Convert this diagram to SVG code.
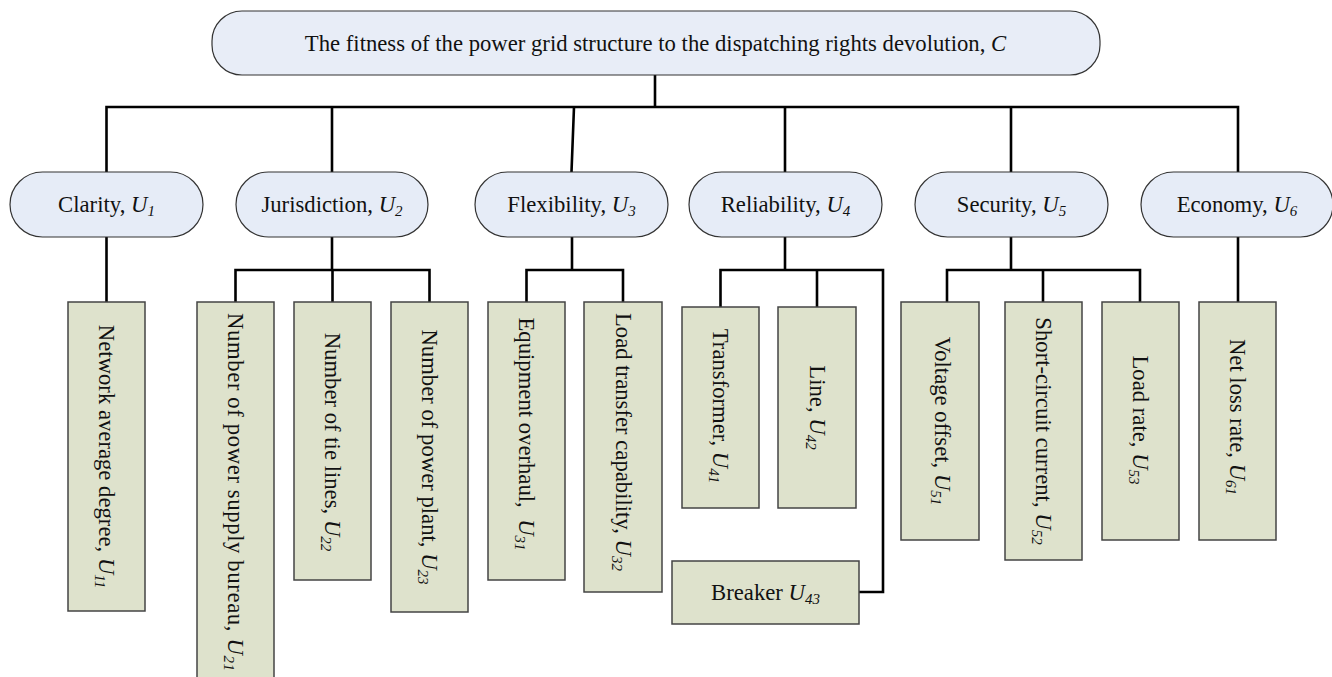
<svg xmlns="http://www.w3.org/2000/svg" width="1332" height="677" viewBox="0 0 1332 677">
<style>
text{font-family:"Liberation Serif","Times New Roman",serif;font-size:22.7px;fill:#111;}
.m{text-anchor:middle;}
.i{font-style:italic;}
.s{font-style:italic;font-size:15px;}
.top{fill:#e8edf7;stroke:#333;stroke-width:1.2;}
.l2{fill:#e6ecf7;stroke:#333;stroke-width:1.2;}
.leaf{fill:#dee2cc;stroke:#444;stroke-width:1.5;}
.c{fill:none;stroke:#000;stroke-width:2.6;stroke-linecap:square;stroke-linejoin:miter;}
</style>
<rect width="1332" height="677" fill="#fff"/>
<g id="connectors">
<path class="c" d="M655,75V107M106.5,107H1238M106.5,107V172M332,107V172M574,107L571.5,172M785,107V172M1011,107V172M1238,107V172"/>
<path class="c" d="M106.5,237V302"/>
<path class="c" d="M332,237V270M235.5,270H429.5M235.5,270V302M332.5,270V302M429.5,270V302"/>
<path class="c" d="M572,237V270M526.5,270H623M526.5,270V302M623,270V302"/>
<path class="c" d="M785,237V270M720.5,270H883V592H860M720.5,270V307M817,270V307"/>
<path class="c" d="M1011,237V270M947,270H1140M947,270V302M1043,270V302M1140,270V302"/>
<path class="c" d="M1238,237V302"/>
</g>
<g id="C">
<rect class="top" x="212" y="11" width="888" height="64" rx="30" ry="30"/>
<text class="m" x="655.5" y="51">The fitness of the power grid structure to the dispatching rights devolution, <tspan class="i">C</tspan></text>
</g>
<g id="U1">
<rect class="l2" x="10" y="172" width="193" height="65" rx="32.5"/>
<text class="m" x="106.5" y="212">Clarity, <tspan class="i">U</tspan><tspan class="s" dy="4">1</tspan></text>
</g>
<g id="U2">
<rect class="l2" x="236" y="172" width="192" height="65" rx="32.5"/>
<text class="m" x="332" y="212">Jurisdiction, <tspan class="i">U</tspan><tspan class="s" dy="4">2</tspan></text>
</g>
<g id="U3">
<rect class="l2" x="475" y="172" width="193" height="65" rx="32.5"/>
<text class="m" x="571.5" y="212">Flexibility, <tspan class="i">U</tspan><tspan class="s" dy="4">3</tspan></text>
</g>
<g id="U4">
<rect class="l2" x="689" y="172" width="193" height="65" rx="32.5"/>
<text class="m" x="785.5" y="212">Reliability, <tspan class="i">U</tspan><tspan class="s" dy="4">4</tspan></text>
</g>
<g id="U5">
<rect class="l2" x="915" y="172" width="193" height="65" rx="32.5"/>
<text class="m" x="1011.5" y="212">Security, <tspan class="i">U</tspan><tspan class="s" dy="4">5</tspan></text>
</g>
<g id="U6">
<rect class="l2" x="1141" y="172" width="192" height="65" rx="32.5"/>
<text class="m" x="1237" y="212">Economy, <tspan class="i">U</tspan><tspan class="s" dy="4">6</tspan></text>
</g>
<g id="U11">
<rect class="leaf" x="68" y="302" width="77" height="309"/>
<text class="m" transform="translate(106.5,456.5) rotate(90)" y="7.5">Network average degree, <tspan class="i">U</tspan><tspan class="s" dy="4">11</tspan></text>
</g>
<g id="U21">
<rect class="leaf" x="197" y="302" width="77" height="390"/>
<text class="m" transform="translate(235.5,492) rotate(90)" y="7.5" textLength="358" lengthAdjust="spacing">Number of power supply bureau, <tspan class="i">U</tspan><tspan class="s" dy="4">21</tspan></text>
</g>
<g id="U22">
<rect class="leaf" x="294" y="302" width="77" height="278"/>
<text class="m" transform="translate(332.5,442) rotate(90)" y="7.5">Number of tie lines, <tspan class="i">U</tspan><tspan class="s" dy="4">22</tspan></text>
</g>
<g id="U23">
<rect class="leaf" x="391" y="302" width="77" height="310"/>
<text class="m" transform="translate(429.5,457) rotate(90)" y="7.5">Number of power plant, <tspan class="i">U</tspan><tspan class="s" dy="4">23</tspan></text>
</g>
<g id="U31">
<rect class="leaf" x="488" y="302" width="77" height="278"/>
<text class="m" transform="translate(526.5,434) rotate(90)" y="7.5">Equipment overhaul, <tspan class="i" dx="5.7">U</tspan><tspan class="s" dy="4">31</tspan></text>
</g>
<g id="U32">
<rect class="leaf" x="584" y="302" width="78" height="290"/>
<text class="m" transform="translate(623,442) rotate(90)" y="7.5">Load transfer capability, <tspan class="i">U</tspan><tspan class="s" dy="4">32</tspan></text>
</g>
<g id="U41">
<rect class="leaf" x="682" y="307" width="77" height="201"/>
<text class="m" transform="translate(720.5,406) rotate(90)" y="7.5">Transformer, <tspan class="i">U</tspan><tspan class="s" dy="4">41</tspan></text>
</g>
<g id="U42">
<rect class="leaf" x="778" y="307" width="78" height="201"/>
<text class="m" transform="translate(817,407.5) rotate(90)" y="7.5">Line, <tspan class="i">U</tspan><tspan class="s" dy="4">42</tspan></text>
</g>
<g id="U43">
<rect class="leaf" x="672" y="561" width="187" height="63"/>
<text class="m" x="765.5" y="600">Breaker <tspan class="i">U</tspan><tspan class="s" dy="4">43</tspan></text>
</g>
<g id="U51">
<rect class="leaf" x="901" y="302" width="78" height="238"/>
<text class="m" transform="translate(942,421) rotate(90)" y="7.5">Voltage offset, <tspan class="i">U</tspan><tspan class="s" dy="4">51</tspan></text>
</g>
<g id="U52">
<rect class="leaf" x="1005" y="302" width="77" height="258"/>
<text class="m" transform="translate(1043.5,431) rotate(90)" y="7.5">Short-circuit current, <tspan class="i">U</tspan><tspan class="s" dy="4">52</tspan></text>
</g>
<g id="U53">
<rect class="leaf" x="1102" y="302" width="77" height="238"/>
<text class="m" transform="translate(1140.5,420) rotate(90)" y="7.5">Load rate, <tspan class="i">U</tspan><tspan class="s" dy="4">53</tspan></text>
</g>
<g id="U61">
<rect class="leaf" x="1199" y="302" width="77" height="238"/>
<text class="m" transform="translate(1237.5,417) rotate(90)" y="7.5">Net loss rate, <tspan class="i">U</tspan><tspan class="s" dy="4">61</tspan></text>
</g>
</svg>
